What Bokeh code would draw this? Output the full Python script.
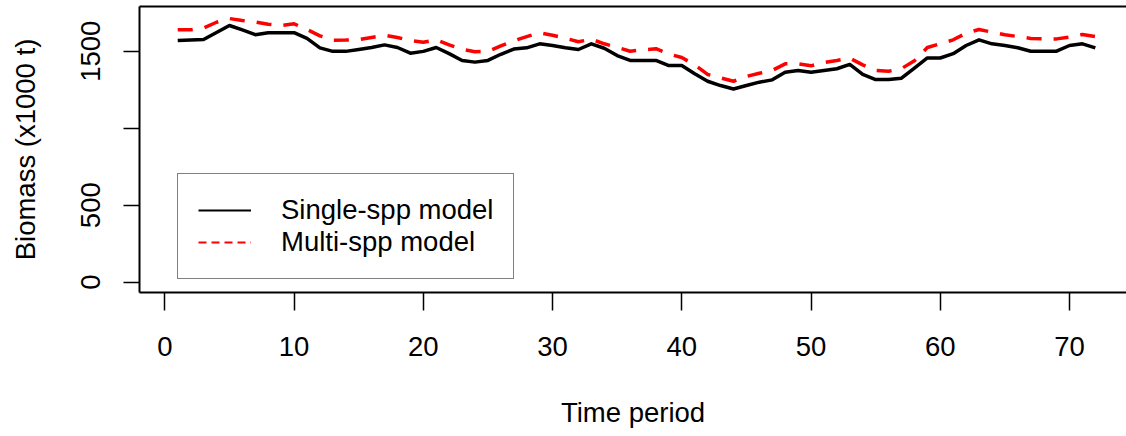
from bokeh.plotting import figure
from bokeh.models import Legend, LegendItem, FixedTicker, Range1d, LinearAxis
from bokeh.embed import file_html
from bokeh.resources import INLINE

# ---- data ----
time_period = list(range(1, 73))
single_spp = [1569, 1573, 1576, 1621, 1667, 1638, 1607, 1620, 1620, 1620,
              1583, 1522, 1499, 1499, 1511, 1524, 1541, 1524, 1487, 1499,
              1524, 1484, 1440, 1429, 1440, 1480, 1514, 1522, 1548, 1537,
              1522, 1511, 1548, 1519, 1472, 1440, 1440, 1440, 1407, 1407,
              1353, 1305, 1277, 1255, 1277, 1299, 1314, 1364, 1375, 1364,
              1375, 1386, 1414, 1349, 1316, 1316, 1325, 1390, 1456, 1456,
              1484, 1537, 1574, 1548, 1537, 1522, 1500, 1500, 1500, 1537,
              1548, 1522]
multi_spp = [1639, 1639, 1651, 1688, 1712, 1699, 1690, 1675, 1667, 1678,
             1641, 1600, 1571, 1572, 1576, 1589, 1603, 1589, 1569, 1558,
             1575, 1541, 1512, 1497, 1498, 1535, 1567, 1595, 1619, 1604,
             1584, 1561, 1578, 1548, 1526, 1500, 1509, 1516, 1482, 1459,
             1411, 1349, 1327, 1305, 1336, 1357, 1375, 1418, 1418, 1405,
             1427, 1440, 1455, 1411, 1375, 1370, 1387, 1438, 1524, 1548,
             1574, 1617, 1641, 1624, 1607, 1595, 1583, 1580, 1580, 1591,
             1609, 1595]
x_ticks = [0, 10, 20, 30, 40, 50, 60, 70]
y_ticks = [0, 500, 1000, 1500]
y_tick_labels = ["0", "500", "", "1500"]
series_names = ["Single-spp model", "Multi-spp model"]
x_title = "Time period"
y_title = "Biomass (x1000 t)"

FONT = "Liberation Sans"
FS = "27.5px"
NAN = float("nan")

p = figure(width=1126, height=436, output_backend="svg", toolbar_location=None,
           x_range=Range1d(-1.958, 74.41), y_range=Range1d(-66.9, 1790.3),
           min_border_left=139, min_border_right=0, min_border_top=6,
           min_border_bottom=144)
p.background_fill_color = "white"
p.border_fill_color = "white"
p.xgrid.visible = False
p.ygrid.visible = False
p.outline_line_color = None

p.line(time_period, single_spp, line_color="black", line_width=3.5,
       line_join="round")
p.line(time_period, multi_spp, line_color="#ff0000", line_width=3.5,
       line_dash="15 12", line_join="round")

# legend proxies (thinner lines like the original legend), nothing drawn
r1 = p.line(x=[NAN], y=[NAN], line_color="black", line_width=2)
r2 = p.line(x=[NAN], y=[NAN], line_color="#ff0000", line_width=2,
            line_dash="8 5")

# box top line
top_axis = LinearAxis(ticker=FixedTicker(ticks=[]), axis_line_color="black",
                      axis_line_width=2, major_tick_line_color=None,
                      minor_tick_line_color=None)
p.add_layout(top_axis, "above")

xa = p.below[0]
ya = p.left[0]

# axes
for ax in (xa, ya):
    ax.axis_line_color = "black"
    ax.axis_line_width = 2
    ax.major_tick_line_color = "black"
    ax.major_tick_line_width = 1.5
    ax.minor_tick_line_color = None
    ax.major_tick_in = 0
    ax.major_label_text_font = FONT
    ax.major_label_text_font_size = FS
    ax.major_label_text_color = "black"
    ax.axis_label_text_font = FONT
    ax.axis_label_text_font_size = FS
    ax.axis_label_text_font_style = "normal"
    ax.axis_label_text_color = "black"

xa.ticker = FixedTicker(ticks=x_ticks)
xa.major_tick_out = 18
xa.major_label_standoff = 26
xa.axis_label = x_title
xa.axis_label_standoff = 38

ya.ticker = FixedTicker(ticks=y_ticks)
ya.major_label_overrides = {t: l for t, l in zip(y_ticks, y_tick_labels)}
ya.major_label_orientation = "vertical"
ya.major_tick_out = 16
ya.major_label_standoff = 23
ya.axis_label = y_title
ya.axis_label_standoff = 38

legend = Legend(items=[LegendItem(label=series_names[0], renderers=[r1]),
                       LegendItem(label=series_names[1], renderers=[r2])],
                location=(38, 13))
legend.label_text_font = FONT
legend.label_text_font_size = FS
legend.label_text_color = "black"
legend.glyph_width = 53
legend.glyph_height = 32
legend.label_height = 32
legend.label_standoff = 30
legend.padding = 20
legend.spacing = 0
legend.margin = 0
legend.border_line_color = "black"
legend.border_line_width = 1.5
legend.background_fill_alpha = 1
p.add_layout(legend)

open("out.html", "w").write(file_html(p, INLINE))
